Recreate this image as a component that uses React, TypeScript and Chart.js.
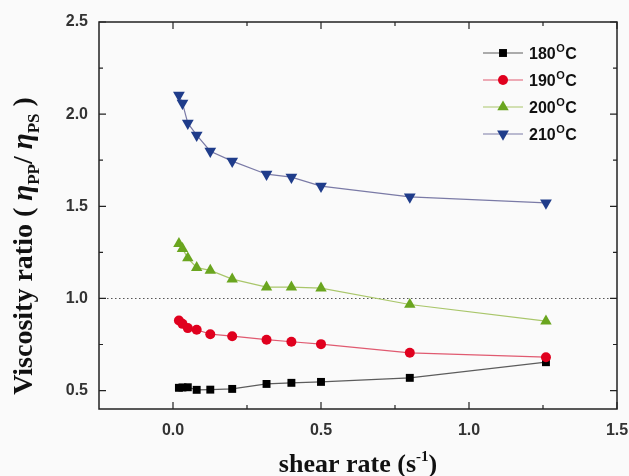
import React, { useEffect, useRef } from "react";
import { Chart, registerables } from "chart.js";
Chart.register(...registerables);

const SHEAR_RATE = [0.02, 0.032, 0.05, 0.08, 0.126, 0.2, 0.316, 0.4, 0.5, 0.8, 1.26];
const RATIO_180 = [0.515, 0.517, 0.518, 0.504, 0.505, 0.509, 0.536, 0.542, 0.547, 0.569, 0.654];
const RATIO_190 = [0.88, 0.862, 0.839, 0.83, 0.806, 0.795, 0.776, 0.765, 0.752, 0.705, 0.681];
const RATIO_200 = [1.297, 1.27, 1.219, 1.167, 1.152, 1.105, 1.061, 1.061, 1.056, 0.967, 0.877];
const RATIO_210 = [2.103, 2.06, 1.951, 1.886, 1.799, 1.745, 1.674, 1.658, 1.609, 1.551, 1.518];
const SERIES_TEMPS = ["180", "190", "200", "210"];
const X_TICKS = [0, 0.5, 1.0, 1.5];
const X_MINOR_TICKS = [0.25, 0.75, 1.25];
const Y_TICKS = [0.5, 1.0, 1.5, 2.0, 2.5];
const Y_MINOR_TICKS = [0.75, 1.25, 1.75, 2.25];
const X_RANGE = [-0.25, 1.5];
const Y_RANGE = [0.4, 2.5];
const REFERENCE_RATIO = 1.0;

const SANS = "'Liberation Sans', Arial, sans-serif";
const SERIF = "'Liberation Serif', 'Times New Roman', serif";

const STYLES = [
  { line: "#5c5c5c", fill: "#000000", point: "rect", radius: 5.6, rotation: 0 },
  { line: "#e05a70", fill: "#e0001e", point: "circle", radius: 5, rotation: 0 },
  { line: "#a9c66a", fill: "#6aa51f", point: "triangle", radius: 6.6, rotation: 0 },
  { line: "#7a7aa6", fill: "#1f3c8a", point: "triangle", radius: 6.8, rotation: 180 },
];

function drawMarker(ctx: CanvasRenderingContext2D, s: typeof STYLES[number], x: number, y: number) {
  ctx.save();
  ctx.fillStyle = s.fill;
  ctx.beginPath();
  if (s.point === "rect") {
    const h = s.radius / Math.SQRT2;
    ctx.rect(x - h, y - h, 2 * h, 2 * h);
  } else if (s.point === "circle") {
    ctx.arc(x, y, s.radius, 0, Math.PI * 2);
  } else {
    let rad = (s.rotation * Math.PI) / 180;
    for (let i = 0; i < 3; i++) {
      const px = x + Math.sin(rad) * s.radius;
      const py = y - Math.cos(rad) * s.radius;
      if (i === 0) ctx.moveTo(px, py);
      else ctx.lineTo(px, py);
      rad += (2 * Math.PI) / 3;
    }
    ctx.closePath();
  }
  ctx.fill();
  ctx.restore();
}

const framePlugin = {
  id: "frame",
  beforeDatasetsDraw(chart: any) {
    const { ctx, chartArea: a, scales } = chart;
    const y = scales.y.getPixelForValue(REFERENCE_RATIO);
    ctx.save();
    ctx.strokeStyle = "#555";
    ctx.lineWidth = 1;
    ctx.setLineDash([1.5, 2.5]);
    ctx.beginPath();
    ctx.moveTo(a.left, Math.round(y) + 0.5);
    ctx.lineTo(a.right, Math.round(y) + 0.5);
    ctx.stroke();
    ctx.restore();
  },
  afterDraw(chart: any) {
    const { ctx, chartArea: a, scales } = chart;
    ctx.save();
    ctx.strokeStyle = "#222";
    ctx.lineWidth = 1.5;
    ctx.strokeRect(a.left, a.top, a.right - a.left, a.bottom - a.top);
    ctx.lineWidth = 1.2;
    const tick = (vals: number[], len: number) => {
      vals.forEach((v) => {
        const x = scales.x.getPixelForValue(v);
        ctx.beginPath();
        ctx.moveTo(x, a.bottom);
        ctx.lineTo(x, a.bottom - len);
        ctx.moveTo(x, a.top);
        ctx.lineTo(x, a.top + len);
        ctx.stroke();
      });
    };
    const ytick = (vals: number[], len: number) => {
      vals.forEach((v) => {
        const y = scales.y.getPixelForValue(v);
        ctx.beginPath();
        ctx.moveTo(a.left, y);
        ctx.lineTo(a.left + len, y);
        ctx.moveTo(a.right, y);
        ctx.lineTo(a.right - len, y);
        ctx.stroke();
      });
    };
    tick(X_TICKS, 7);
    tick(X_MINOR_TICKS, 4);
    ytick(Y_TICKS, 7);
    ytick(Y_MINOR_TICKS, 4);

    // legend
    const lx0 = a.right - 134;
    const lx1 = a.right - 94;
    const mx = (lx0 + lx1) / 2;
    const tx = a.right - 88;
    SERIES_TEMPS.forEach((temp, i) => {
      const s = STYLES[i];
      const y = a.top + 31 + i * 27;
      ctx.strokeStyle = s.line;
      ctx.lineWidth = 1.1;
      ctx.beginPath();
      ctx.moveTo(lx0, y);
      ctx.lineTo(lx1, y);
      ctx.stroke();
      drawMarker(ctx, s, mx, y);
      ctx.fillStyle = "#111";
      ctx.textBaseline = "alphabetic";
      ctx.textAlign = "left";
      ctx.font = `bold 16px ${SANS}`;
      ctx.fillText(temp, tx, y + 6);
      let w = ctx.measureText(temp).width;
      ctx.font = `bold 11px ${SANS}`;
      ctx.fillText("O", tx + w + 0.5, y - 1);
      w += ctx.measureText("O").width + 1;
      ctx.font = `bold 16px ${SANS}`;
      ctx.fillText("C", tx + w, y + 6);
    });

    // x title
    ctx.fillStyle = "#111";
    ctx.textBaseline = "alphabetic";
    ctx.textAlign = "left";
    const big = `bold 26px ${SERIF}`;
    const sup = `bold 15px ${SERIF}`;
    const xParts = [
      { t: "shear rate (s", f: big, dy: 0 },
      { t: "-1", f: sup, dy: -11 },
      { t: ")", f: big, dy: 0 },
    ];
    let total = 0;
    xParts.forEach((p) => { ctx.font = p.f; total += ctx.measureText(p.t).width; });
    let cx = (a.left + a.right) / 2 - total / 2;
    const by = 472;
    xParts.forEach((p) => { ctx.font = p.f; ctx.fillText(p.t, cx, by + p.dy); cx += ctx.measureText(p.t).width; });

    // y title
    const ybig = `bold 28px ${SERIF}`;
    const ital = `italic bold 29px ${SERIF}`;
    const sub = `bold 17px ${SERIF}`;
    const yParts = [
      { t: "Viscosity ratio ( ", f: ybig, dy: 0 },
      { t: "\u03b7", f: ital, dy: 0 },
      { t: "PP", f: sub, dy: 7 },
      { t: "/ ", f: ybig, dy: 0 },
      { t: "\u03b7", f: ital, dy: 0 },
      { t: "PS", f: sub, dy: 7 },
      { t: " )", f: ybig, dy: 0 },
    ];
    total = 0;
    yParts.forEach((p) => { ctx.font = p.f; total += ctx.measureText(p.t).width; });
    ctx.translate(32, 246);
    ctx.rotate(-Math.PI / 2);
    cx = -total / 2;
    yParts.forEach((p) => { ctx.font = p.f; ctx.fillText(p.t, cx, p.dy); cx += ctx.measureText(p.t).width; });
    ctx.restore();
  },
};

export default function App() {
  const ref = useRef<HTMLCanvasElement>(null);
  useEffect(() => {
    const canvas = ref.current!;
    const values = [RATIO_180, RATIO_190, RATIO_200, RATIO_210];
    const chart = new Chart(canvas, {
      type: "line",
      data: {
        datasets: values.map((vals, i) => ({
          label: SERIES_TEMPS[i] + "\u00b0C",
          data: SHEAR_RATE.map((x, j) => ({ x, y: vals[j] })),
          borderColor: STYLES[i].line,
          borderWidth: 1.2,
          backgroundColor: STYLES[i].fill,
          pointBackgroundColor: STYLES[i].fill,
          pointBorderColor: STYLES[i].fill,
          pointBorderWidth: 0,
          pointStyle: STYLES[i].point as any,
          pointRadius: STYLES[i].radius,
          pointRotation: STYLES[i].rotation,
          tension: 0,
          fill: false,
          order: 4 - i,
        })),
      },
      options: {
        animation: false,
        responsive: false,
        devicePixelRatio: 1,
        layout: { padding: { top: 22, right: 12, left: 0, bottom: 0 } },
        plugins: { legend: { display: false }, tooltip: { enabled: false }, title: { display: false } },
        scales: {
          x: {
            type: "linear",
            min: X_RANGE[0],
            max: X_RANGE[1],
            grid: { display: false, drawTicks: false },
            border: { display: false },
            afterBuildTicks: (s: any) => { s.ticks = X_TICKS.map((v) => ({ value: v })); },
            afterFit: (s: any) => {
              s.height = 67;
              s.paddingLeft = 0;
              s.paddingRight = 0;
            },
            ticks: {
              padding: 12,
              color: "#333",
              font: { family: SANS, size: 16, weight: "bold" },
              callback: (v: any) => Number(v).toFixed(1),
              maxRotation: 0,
            },
          },
          y: {
            type: "linear",
            min: Y_RANGE[0],
            max: Y_RANGE[1],
            grid: { display: false, drawTicks: false },
            border: { display: false },
            afterBuildTicks: (s: any) => { s.ticks = Y_TICKS.map((v) => ({ value: v })); },
            afterFit: (s: any) => {
              s.width = 99;
              s.paddingTop = 0;
              s.paddingBottom = 0;
            },
            ticks: {
              padding: 11,
              color: "#333",
              font: { family: SANS, size: 16, weight: "bold" },
              callback: (v: any) => Number(v).toFixed(1),
            },
          },
        },
      },
      plugins: [framePlugin],
    });
    return () => chart.destroy();
  }, []);
  return (
    <div style={{ position: "fixed", left: 0, top: 0, width: 629, height: 476, background: "#fafafa" }}>
      <canvas ref={ref} width={629} height={476} style={{ display: "block", width: 629, height: 476 }} />
    </div>
  );
}
